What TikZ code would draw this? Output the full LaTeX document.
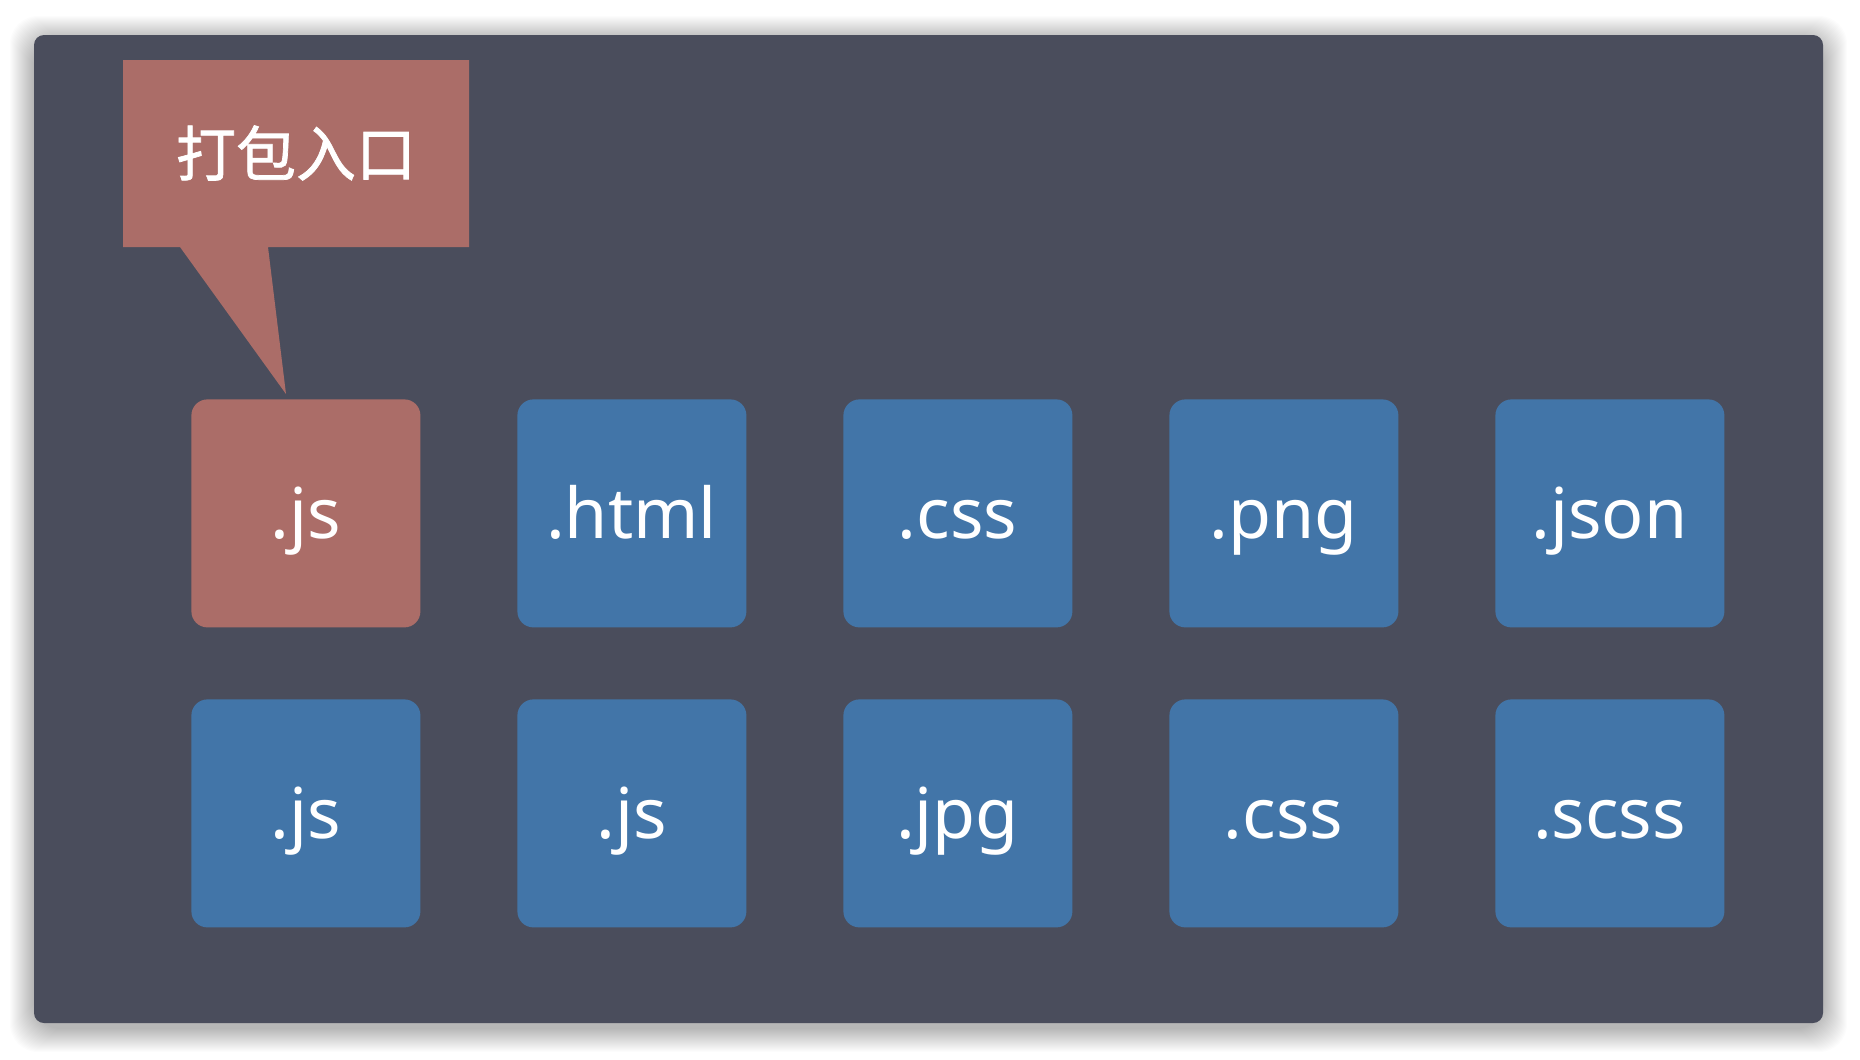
\documentclass[tikz,border=0pt]{standalone}
\usepackage{fontspec}
\setmainfont{Noto Sans}
\newfontfamily\cjk[FakeBold=1.2]{Noto Sans CJK SC}
\definecolor{panelbg}{HTML}{4A4D5C}
\definecolor{entryred}{HTML}{AB6D68}
\definecolor{fileblue}{HTML}{4275A8}
\begin{document}
\begin{tikzpicture}[x=0.5pt,y=-0.5pt,
  filebox/.style={fill=fileblue, rounded corners=8pt, minimum width=114.5pt, minimum height=114pt, inner sep=0pt, anchor=north west},
  entrybox/.style={filebox, fill=entryred},
  lbl/.style={text=white, font=\fontsize{35}{42}\selectfont, anchor=base}]
\useasboundingbox (0,0) rectangle (1860,1060);
\fill[white] (0,0) rectangle (1860,1060);
% soft shadow around panel
\foreach \d in {1,...,24}{
  \fill[black, opacity=0.012, rounded corners=14pt] (34-\d,35-\d+5) rectangle (1823+\d,1023+\d+5);
}
\fill[panelbg, rounded corners=5pt] (34,35) rectangle (1823,1023);
% callout
\fill[entryred] (123,60) -- (469,60) -- (469,247) -- (268,247) -- (286,394) -- (180,247) -- (123,247) -- cycle;
\node[text=white, font=\cjk\fontsize{30}{36}\selectfont] (callout) at (296,153) {打包入口};
% row 1
\node[entrybox] (r1c1) at (191,399) {};
\node[filebox] (r1c2) at (517,399) {};
\node[filebox] (r1c3) at (843,399) {};
\node[filebox] (r1c4) at (1169,399) {};
\node[filebox] (r1c5) at (1495,399) {};
% row 2
\node[filebox] (r2c1) at (191,699) {};
\node[filebox] (r2c2) at (517,699) {};
\node[filebox] (r2c3) at (843,699) {};
\node[filebox] (r2c4) at (1169,699) {};
\node[filebox] (r2c5) at (1495,699) {};
% labels
\node[lbl] (t11) at (305.5,538) {.js};
\node[lbl] (t12) at (631.5,538) {.html};
\node[lbl] (t13) at (957.5,538) {.css};
\node[lbl] (t14) at (1283.5,538) {.png};
\node[lbl] (t15) at (1609.5,538) {.json};
\node[lbl] (t21) at (305.5,838) {.js};
\node[lbl] (t22) at (631.5,838) {.js};
\node[lbl] (t23) at (957.5,838) {.jpg};
\node[lbl] (t24) at (1283.5,838) {.css};
\node[lbl] (t25) at (1609.5,838) {.scss};
\end{tikzpicture}
\end{document}
